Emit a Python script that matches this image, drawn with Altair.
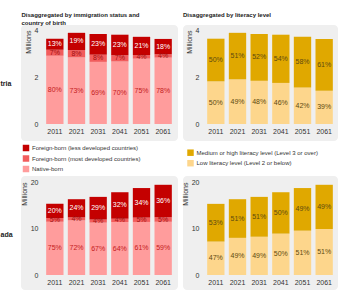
import altair as alt
import pandas as pd

FONT = "Liberation Sans"

years = ["2011", "2021", "2031", "2041", "2051", "2061"]
countries = ["tria", "ada"]

aut_total = [3.63, 3.88, 3.83, 3.80, 3.71, 3.62]
can_total = [15.3, 16.3, 16.8, 17.8, 18.7, 19.4]

aut_native = [80, 73, 69, 70, 75, 78]
aut_fb_most = [7, 8, 8, 7, 4, 4]
aut_fb_less = [13, 19, 23, 23, 21, 18]
can_native = [75, 72, 67, 64, 61, 59]
can_fb_most = [5, 4, 4, 4, 5, 5]
can_fb_less = [20, 24, 29, 32, 34, 36]

aut_low = [50, 49, 48, 46, 42, 39]
aut_med = [50, 51, 52, 54, 58, 61]
can_low = [47, 49, 49, 50, 51, 51]
can_med = [53, 51, 51, 50, 49, 49]

imm_names = ["Foreign-born (less developed countries)",
             "Foreign-born (most developed countries)",
             "Native-born"]
lit_names = ["Medium or high literacy level (Level 3 or over)",
             "Low literacy level (Level 2 or below)"]
imm_colors = ["#c40000", "#f25c5c", "#ff9c9c"]
imm_text = ["#ffffff", "#9e1010", "#c42020"]
lit_colors = ["#e0a800", "#fdd68c"]
lit_text = ["#5e4a10", "#5e4a10"]

title_left = ["Disaggregated by immigration status and", "country of birth"]
title_right = "Disaggregated by literacy level"


def build(totals, series, names, colors, tcolors):
    # series etc. given top-to-bottom; stack bottom-up
    rows = []
    for i, yr in enumerate(years):
        cum = 0.0
        for s, name, c, tc in zip(series[::-1], names[::-1], colors[::-1], tcolors[::-1]):
            v = totals[i] * s[i] / 100.0
            rows.append(dict(year=yr, seg=name, lo=cum, hi=cum + v, mid=cum + v / 2,
                             label=f"{s[i]}%", fill=c, tfill=tc))
            cum += v
    return pd.DataFrame(rows)


df_aut_imm = build(aut_total, [aut_fb_less, aut_fb_most, aut_native], imm_names, imm_colors, imm_text)
df_aut_lit = build(aut_total, [aut_med, aut_low], lit_names, lit_colors, lit_text)
df_can_imm = build(can_total, [can_fb_less, can_fb_most, can_native], imm_names, imm_colors, imm_text)
df_can_lit = build(can_total, [can_med, can_low], lit_names, lit_colors, lit_text)

dummy = pd.DataFrame({"k": [0]})
BG = "#efefef"


def panel(df, w, h, ymax, ystep, bgbox, side=None, side_y=0, title=None, color_enc=None):
    x0, x1, y0, y1 = bgbox
    xenc = alt.X("year:N", sort=years,
                 scale=alt.Scale(paddingInner=0.2, paddingOuter=0.1),
                 axis=alt.Axis(title=None, labelAngle=0, domain=False, ticks=False,
                               labelPadding=3, labelFontSize=7, labelColor="#333",
                               labelFont=FONT, zindex=2))
    yenc = alt.Y("lo:Q", scale=alt.Scale(domain=[0, ymax], nice=False, zero=True),
                 axis=alt.Axis(title="Millions", values=list(range(0, ymax + 1, ystep)),
                               grid=False, domain=False, ticks=False, labelPadding=6,
                               labelFontSize=7, labelColor="#333", labelFont=FONT,
                               titleFontSize=7, titleFontWeight="normal", titleColor="#333",
                               titleFont=FONT, titleAnchor="end", titlePadding=3, zindex=2))
    bg = alt.Chart(dummy).mark_rect(color=BG, cornerRadius=4).encode(
        x=alt.value(x0), x2=alt.value(x1), y=alt.value(y0), y2=alt.value(y1))
    if color_enc is None:
        color_enc = alt.Color("fill:N", scale=None)
    bars = alt.Chart(df).mark_bar().encode(x=xenc, y=yenc, y2="hi:Q", color=color_enc)
    texts = alt.Chart(df).mark_text(fontSize=7, font=FONT, baseline="middle").encode(
        x=alt.X("year:N", sort=years), y=alt.Y("mid:Q"), text="label:N",
        fill=alt.Fill("tfill:N", scale=None))
    layers = [bg, bars, texts]
    if side is not None:
        layers.append(alt.Chart(dummy).mark_text(
            text=side, align="left", baseline="middle", fontSize=7, fontWeight="bold",
            font=FONT, color="#222").encode(x=alt.value(-43.5), y=alt.value(side_y)))
    props = dict(width=w, height=h)
    if title is not None:
        props["title"] = title
    return alt.layer(*layers).properties(**props)


W = 130
TH = 94
BH = 93


def leg(lx, ly):
    return alt.Legend(title=None, orient="none", legendX=lx, legendY=ly, symbolType="square",
                      symbolSize=42, labelFontSize=6, labelFont=FONT, labelColor="#333",
                      rowPadding=3.5, labelOffset=2.5, padding=0, symbolStrokeWidth=0,
                      labelLimit=300, zindex=2)


tl = panel(df_aut_imm, W, TH, 4, 1, (-23, W + 4, -5, TH + 17), side=countries[0], side_y=54,
           title=alt.TitleParams(title_left, anchor="start", frame="group", fontSize=6,
                                 fontWeight="bold", font=FONT, color="#222", dx=-22.5,
                                 offset=-1, lineHeight=8),
           color_enc=alt.Color("seg:N", scale=alt.Scale(domain=imm_names, range=imm_colors),
                               legend=leg(-21.5, 114.5)))
tr = panel(df_aut_lit, W, TH, 4, 1, (-22, W + 3, -5, TH + 17),
           title=alt.TitleParams(title_right, anchor="start", frame="group", fontSize=6,
                                 fontWeight="bold", font=FONT, color="#222", dx=-22, dy=-8,
                                 offset=-1),
           color_enc=alt.Color("seg:N", scale=alt.Scale(domain=lit_names, range=lit_colors),
                               legend=leg(-18, 119.2)))
bl = panel(df_can_imm, W, BH, 20, 5, (-23, W + 4, -6, BH + 15), side=countries[1], side_y=53)
br = panel(df_can_lit, W, BH, 20, 5, (-22, W + 3, -6, BH + 15))

chart = alt.concat(tl, tr, bl, br, columns=2, spacing={"row": 58, "column": 31},
                   bounds="flush").resolve_scale(color="independent").properties(
    padding={"left": 0, "top": 12, "right": 0, "bottom": 0}).configure_view(stroke=None)

chart.save("out.html", embed_options={"renderer": "svg", "actions": False})
